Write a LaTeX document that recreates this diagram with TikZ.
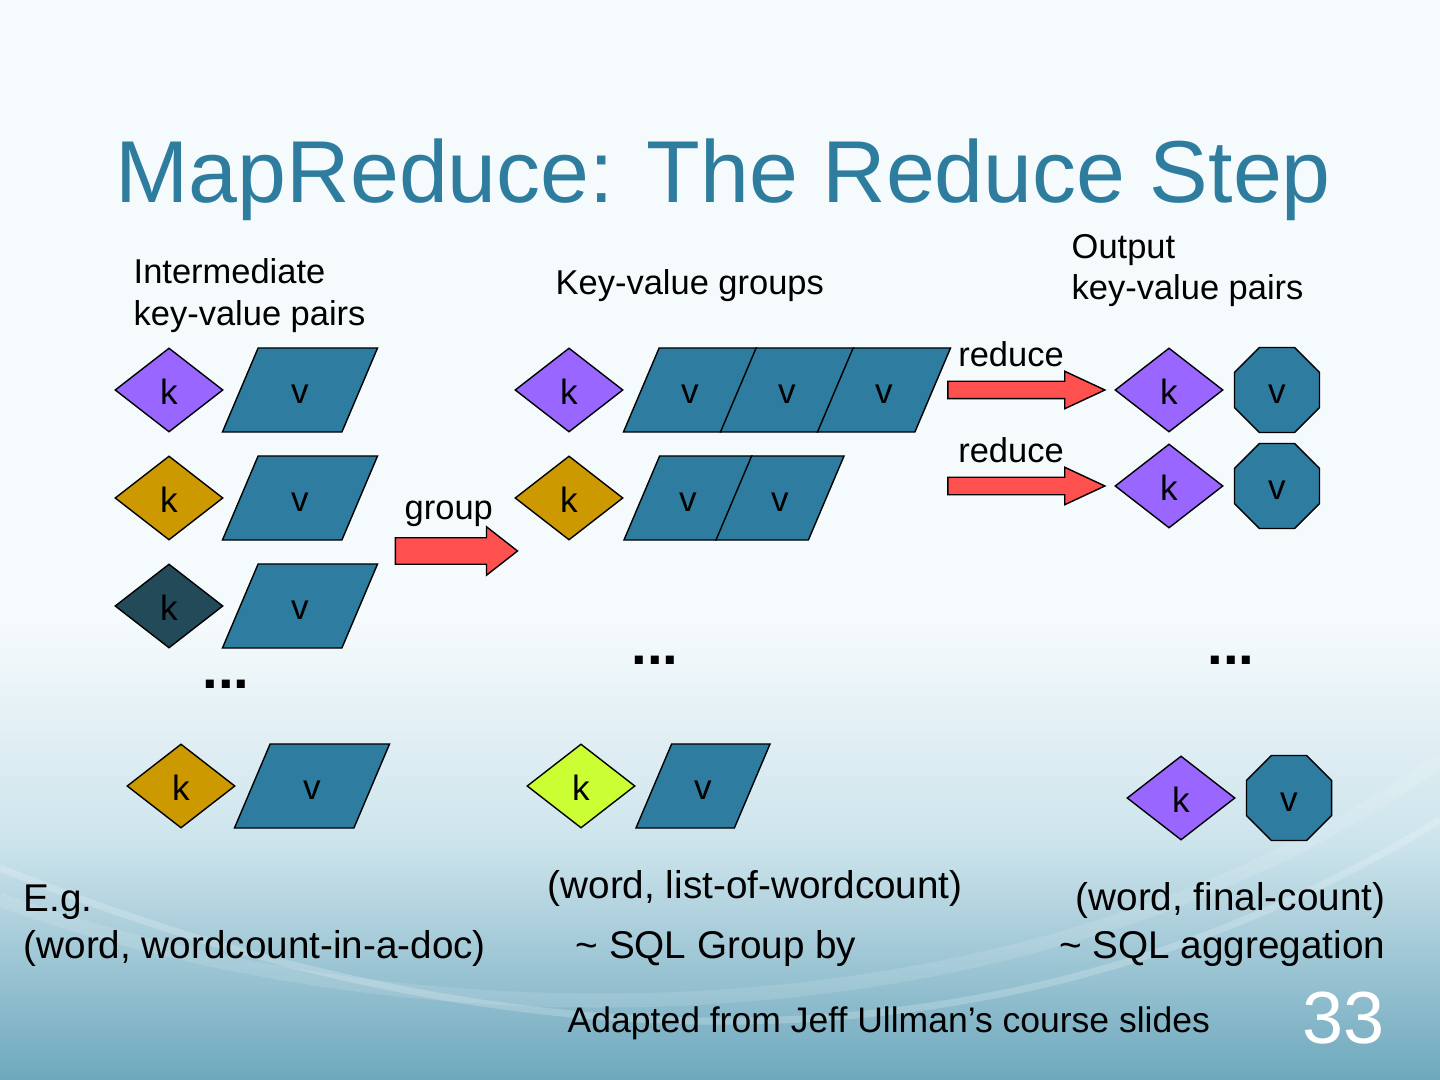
\documentclass[tikz,border=0pt]{standalone}
\usepackage{fontspec}
\setmainfont{Liberation Sans}
\usetikzlibrary{shapes.geometric,shapes.arrows}

\definecolor{titleblue}{RGB}{46,125,158}
\definecolor{valblue}{RGB}{46,124,160}
\definecolor{keypurple}{RGB}{153,102,255}
\definecolor{keygold}{RGB}{204,153,0}
\definecolor{keydark}{RGB}{35,74,89}
\definecolor{keylime}{RGB}{204,255,51}
\definecolor{arrowred}{RGB}{255,80,80}
\definecolor{bgtop}{RGB}{245,250,252}
\definecolor{bgmid}{RGB}{205,228,236}
\definecolor{bgbot}{RGB}{110,168,189}

\pgfdeclareverticalshading{slidebg}{100bp}{color(0bp)=(bgbot); color(25bp)=(bgbot); color(36bp)=(bgmid); color(46bp)=(bgtop); color(100bp)=(bgtop)}

\tikzset{
  key/.style={diamond, draw, fill=#1, minimum width=1.08cm, minimum height=0.84cm,
    inner sep=0pt, text height=8.5pt, text depth=0pt, font=\fontsize{10}{12}\selectfont},
  val/.style={trapezium, trapezium left angle=67, trapezium right angle=113,
    trapezium stretches body, draw, fill=valblue, minimum width=#1,
    minimum height=0.84cm, inner sep=0pt, text height=15.65pt, text depth=8.25pt,
    font=\fontsize{10}{12}\selectfont},
  outval/.style={regular polygon, regular polygon sides=8, minimum size=0.92cm,
    draw, fill=valblue, inner sep=0pt, text height=7.4pt, text depth=0pt,
    font=\fontsize{10}{12}\selectfont},
  redarrow/.style={single arrow, draw, fill=arrowred, inner sep=0pt},
  lbl/.style={inner sep=0pt, anchor=base west, align=left,
    font=\fontsize{9.8}{12.1}\selectfont},
  note/.style={inner sep=0pt, anchor=base west, align=left,
    font=\fontsize{11}{13.1}\selectfont},
  dots/.style={inner sep=0pt, anchor=base, font=\bfseries\fontsize{16}{16}\selectfont}
}

\begin{document}
\begin{tikzpicture}[x=0.01cm, y=-0.01cm]
\useasboundingbox (0,0) rectangle (1440,1080);
% slide background
\shade[shading=slidebg] (0,0) rectangle (1440,1080);
\draw[white, opacity=0.2, line width=2pt] (0,868) .. controls (500,1070) and (1000,1090) .. (1440,820);
\draw[white, opacity=0.12, line width=4pt] (0,900) .. controls (450,1060) and (1050,1040) .. (1440,760);

\node[inner sep=0pt, anchor=base west, text=titleblue, font=\fontsize{25}{30}\selectfont]
  (title) at (115,203) {MapReduce: The Reduce Step};

% intermediate pairs
\node[lbl] (inhead) at (133,326) {Intermediate\\key-value pairs};
\foreach \row/\col [count=\i] in {390/keypurple, 498/keygold, 606/keydark} {
  \node[key=\col] (lk\i) at (169,\row) {k};
  \node[val=1.55cm] (lv\i) at (300,\row) {v};
}
\node[dots] (ldots) at (226,689) {...};
\node[key=keygold] (lk4) at (181,786) {k};
\node[val=1.55cm] (lv4) at (312,786) {v};

% group
\node[lbl] (grplbl) at (404,520) {group};
\node[redarrow, minimum height=1.22cm, minimum width=0.47cm, inner ysep=0.125cm,
  single arrow head extend=0.11cm, single arrow tip angle=76] (grp) at (448,551) {};

% key-value groups
\node[lbl] (mhead) at (555,295) {Key-value groups};
\node[key=keypurple] (mk1) at (569,390) {k};
\node[val=1.33cm] (mv1a) at (690,390) {v};
\node[val=1.33cm] (mv1b) at (787,390) {v};
\node[val=1.33cm] (mv1c) at (884,390) {v};
\node[key=keygold] (mk2) at (569,498) {k};
\node[val=1.28cm] (mv2a) at (688,498) {v};
\node[val=1.28cm] (mv2b) at (780,498) {v};
\node[dots] (mdots) at (655,665) {...};
\node[key=keylime] (mk4) at (581,786) {k};
\node[val=1.34cm] (mv4) at (703,786) {v};

% reduce
\foreach \row [count=\i] in {390,486} {
  \node[lbl, anchor=base] (redlbl\i) at (1011,\row-23) {reduce};
  \node[redarrow, minimum height=1.57cm, minimum width=0.36cm, inner ysep=0.08cm,
    single arrow head extend=0.10cm, single arrow tip angle=50] (red\i) at (1017,\row) {};
}

% output pairs
\node[lbl, font=\fontsize{9.8}{11.9}\selectfont] (ohead) at (1071,300) {Output\\key-value pairs};
\node[key=keypurple] (ok1) at (1169,390) {k};
\node[outval] (ov1) at (1277,390) {v};
\node[key=keypurple] (ok2) at (1169,486) {k};
\node[outval] (ov2) at (1277,486) {v};
\node[dots] (odots) at (1231,665) {...};
\node[key=keypurple] (ok4) at (1181,798) {k};
\node[outval] (ov4) at (1289,798) {v};

% notes
\node[note] (eg) at (23,958) {E.g.\\(word, wordcount-in-a-doc)};
\node[note] (mnote) at (547,898) {(word, list-of-wordcount)};
\node[note] (msql) at (575,958) {\textasciitilde{} SQL Group by};
\node[note, anchor=base east] (onote) at (1386,910) {(word, final-count)};
\node[note, anchor=base east] (osql) at (1386,958) {\textasciitilde{} SQL aggregation};
\node[inner sep=0pt, anchor=base west, font=\fontsize{10.1}{12}\selectfont]
  (credit) at (567,1032) {Adapted from Jeff Ullman’s course slides};
\node[inner sep=0pt, anchor=base east, text=white, font=\fontsize{21}{24}\selectfont]
  (pagenum) at (1385,1043) {33};
\end{tikzpicture}
\end{document}
